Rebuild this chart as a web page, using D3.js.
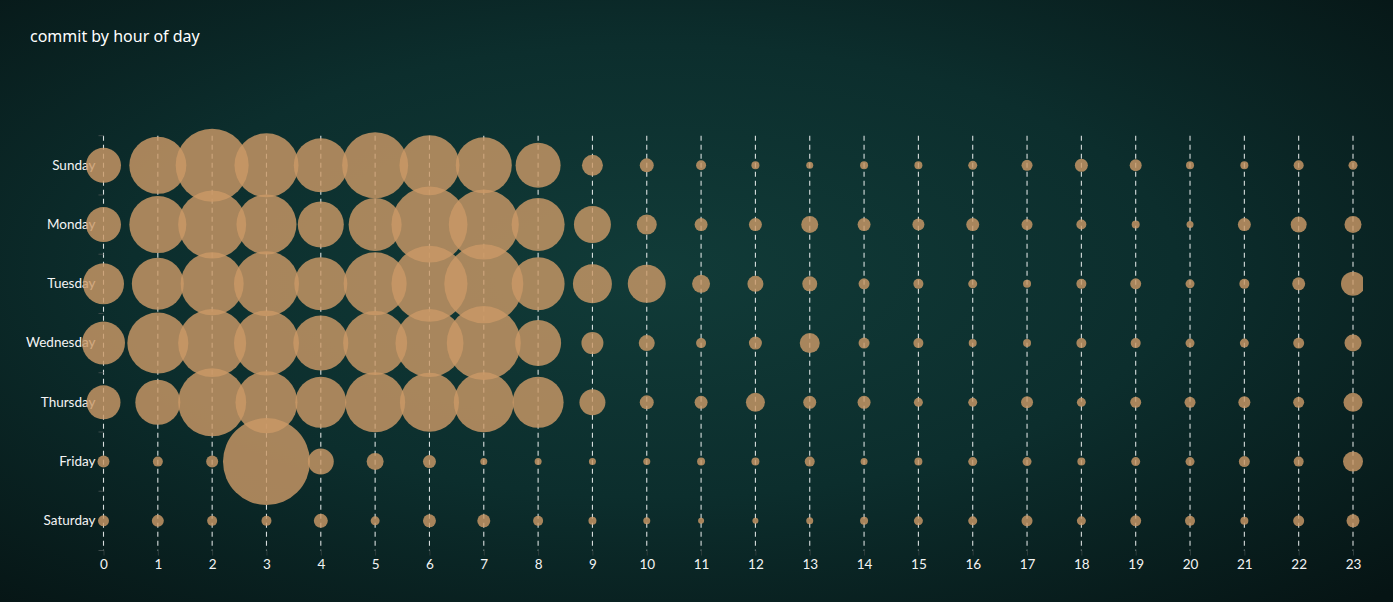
<!DOCTYPE html>
<html>
<head>
<meta charset="utf-8">
<script src="https://cdn.jsdelivr.net/npm/d3@7"></script>
<style>
  html, body { margin: 0; padding: 0; background: #081c1d; }
  svg { display: block; }
</style>
</head>
<body>
<div id="punchCard"></div>
<script>
// hours on the x axis, days on the y axis
const hours = d3.range(0, 24).map(String);
const days = ['Sunday', 'Monday', 'Tuesday', 'Wednesday', 'Thursday', 'Friday', 'Saturday'];

// commits per hour, one array per day
const sunday    = [35, 57, 73, 64, 54, 66, 60, 56, 45, 21, 14, 10, 8, 7, 8, 8, 9, 11, 13, 12, 8, 8, 10, 9];
const monday    = [35, 57, 68, 60, 46, 53, 76, 70, 53, 37, 20, 13, 13, 17, 13, 12, 13, 11, 10, 8, 7, 13, 16, 17];
const tuesday   = [41, 52, 63, 65, 53, 63, 76, 79, 53, 39, 38, 18, 16, 15, 11, 10, 9, 8, 10, 11, 9, 10, 13, 24];
const wednesday = [43, 61, 68, 65, 55, 64, 68, 74, 46, 22, 16, 10, 13, 20, 11, 10, 8, 8, 10, 10, 9, 9, 11, 17];
const thursday  = [34, 45, 68, 62, 51, 60, 59, 60, 51, 26, 14, 13, 19, 13, 13, 9, 9, 12, 9, 11, 11, 12, 11, 19];
const friday    = [12, 10, 12, 87, 26, 17, 13, 7, 7, 7, 7, 8, 8, 10, 7, 8, 9, 9, 8, 9, 9, 11, 10, 20];
const saturday  = [11, 12, 10, 10, 14, 9, 13, 13, 10, 8, 7, 6, 6, 7, 8, 9, 9, 11, 9, 11, 10, 8, 11, 13];

const title = 'commit by hour of day';

const series = [sunday, monday, tuesday, wednesday, thursday, friday, saturday];
const points = [];
series.forEach((row, i) => {
  row.forEach((v, h) => points.push({ day: days[i], hour: hours[h], value: v }));
});

// Set up chart dimensions
const width = 1393;
const height = 602;
const margin = { top: 135.7, right: 40, bottom: 51.5, left: 103.5 };

const svg = d3.select('#punchCard')
  .append('svg')
  .attr('width', width)
  .attr('height', height);

// Background glow
const defs = svg.append('defs');
const grad = defs.append('radialGradient')
  .attr('id', 'bg')
  .attr('cx', '47%').attr('cy', '45%').attr('r', '75%');
grad.append('stop').attr('offset', '0%').attr('stop-color', '#113b38');
grad.append('stop').attr('offset', '50%').attr('stop-color', '#0c2e2d');
grad.append('stop').attr('offset', '100%').attr('stop-color', '#061414');

svg.append('rect')
  .attr('width', width)
  .attr('height', height)
  .attr('fill', 'url(#bg)');

defs.append('clipPath').attr('id', 'plotClip')
  .append('rect')
  .attr('x', 0).attr('y', 0)
  .attr('width', 1363).attr('height', height);

// Scales
const x = d3.scalePoint()
  .domain(hours)
  .range([margin.left, 1353]);

const y = d3.scaleBand()
  .domain(days)
  .range([margin.top, height - margin.bottom]);

const r = d3.scaleLinear()
  .domain([0, d3.max(points, d => d.value)])
  .range([0, 43.5]);

const plotBottom = height - margin.bottom;

// Title
svg.append('text')
  .attr('x', 30)
  .attr('y', 42)
  .attr('fill', '#ffffff')
  .attr('font-family', '"Noto Sans", sans-serif')
  .attr('font-size', 16)
  .attr('font-weight', 400)
  .text(title);

// Vertical dashed grid lines
svg.append('g')
  .selectAll('line')
  .data(hours)
  .enter().append('line')
  .attr('x1', d => x(d))
  .attr('x2', d => x(d))
  .attr('y1', margin.top)
  .attr('y2', plotBottom)
  .attr('stroke', '#eef2f2')
  .attr('stroke-opacity', 0.9)
  .attr('stroke-width', 1.1)
  .attr('stroke-dasharray', '5,4');

// Y axis: labels plus small ticks at band boundaries
const yAxis = svg.append('g')
  .attr('transform', `translate(${margin.left},0)`)
  .call(d3.axisLeft(y).tickSize(0).tickPadding(8));
yAxis.select('.domain').remove();
yAxis.selectAll('text')
  .attr('fill', '#f4f4f4')
  .attr('font-family', 'Lato, sans-serif')
  .attr('font-size', 13.5);

svg.append('g')
  .selectAll('line')
  .data(d3.range(days.length + 1))
  .enter().append('line')
  .attr('x1', margin.left - 5)
  .attr('x2', margin.left)
  .attr('y1', i => margin.top + i * y.step())
  .attr('y2', i => margin.top + i * y.step())
  .attr('stroke', '#3c4a4a')
  .attr('stroke-width', 1);

// X axis
const xAxis = svg.append('g')
  .attr('transform', `translate(0,${plotBottom})`)
  .call(d3.axisBottom(x).tickSize(5).tickPadding(4));
xAxis.select('.domain').remove();
xAxis.selectAll('line').attr('stroke', '#2c3b3b');
xAxis.selectAll('text')
  .attr('fill', '#f4f4f4')
  .attr('font-family', 'Lato, sans-serif')
  .attr('font-size', 13.5);

// Bubbles
svg.append('g')
  .attr('clip-path', 'url(#plotClip)')
  .selectAll('circle')
  .data(points)
  .enter().append('circle')
  .attr('cx', d => x(d.hour))
  .attr('cy', d => y(d.day) + y.bandwidth() / 2)
  .attr('r', d => r(d.value))
  .attr('fill', 'rgb(203,153,102)')
  .attr('fill-opacity', 0.82);
</script>
</body>
</html>
